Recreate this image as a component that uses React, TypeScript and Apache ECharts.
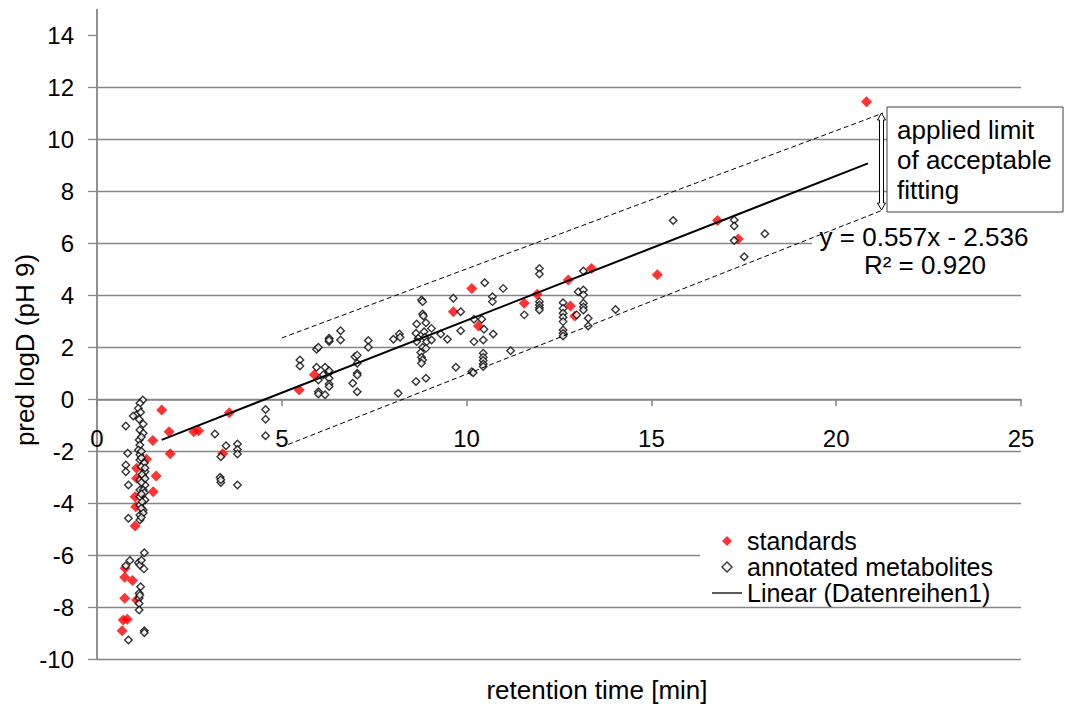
import React, { useEffect, useRef } from 'react';
import * as echarts from 'echarts';

const FONT = '"Liberation Sans", Arial, Helvetica, sans-serif';

const yTicks = [-10, -8, -6, -4, -2, 0, 2, 4, 6, 8, 10, 12, 14];
const Y_MIN = -10;
const Y_MAX = 15;

const standards: [number, number][] = [
  [1.75, -0.41], [1.95, -1.25], [1.51, -1.59], [1.98, -2.1], [2.62, -1.25], [2.75, -1.21],
  [3.58, -0.52], [3.4, -2.1], [1.34, -2.31], [1.6, -2.95], [1.52, -3.56], [1.07, -2.66],
  [1.07, -3.04], [1.03, -3.75], [1.05, -4.14], [1.03, -4.88], [0.76, -6.51], [0.75, -6.85],
  [0.96, -6.98], [0.75, -7.66], [1.07, -7.73], [0.82, -8.47], [0.71, -8.5], [0.68, -8.91],
  [5.47, 0.36], [5.88, 0.94], [9.64, 3.37], [10.14, 4.27], [10.32, 2.82], [11.56, 3.7],
  [11.91, 4.04], [12.75, 4.59], [13.38, 5.04], [12.81, 3.59], [12.93, 3.21], [15.16, 4.79],
  [16.79, 6.88], [17.35, 6.17], [20.82, 11.46],
];

const metabolites: [number, number][] = [
  [1.24, -0.03], [1.16, -0.15], [1.12, -0.35], [1.07, -0.6], [0.98, -0.64], [1.14, -0.77],
  [1.25, -0.95], [0.78, -1.03], [1.16, -1.18], [1.25, -1.31], [1.14, -1.57], [1.16, -1.76],
  [1.12, -1.95], [0.83, -2.08], [1.16, -2.14], [1.16, -2.34], [0.78, -2.53], [0.78, -2.79],
  [1.3, -2.79], [1.25, -2.98], [1.16, -3.11], [0.85, -3.3], [1.3, -3.3], [1.16, -3.49],
  [1.25, -3.49], [1.16, -3.75], [1.3, -3.88], [1.16, -4.07], [1.25, -4.26], [1.16, -4.46],
  [0.85, -4.58], [1.16, -4.65], [1.2, -2.25], [1.28, -2.45], [1.2, -2.6], [1.3, -2.65],
  [1.22, -2.9], [1.3, -3.05], [1.2, -3.2], [1.28, -3.6], [1.2, -3.65], [1.22, -3.95],
  [1.2, -4.2], [1.25, -4.38], [1.2, -4.55], [1.2, -1.45], [1.2, -2.0], [1.18, -0.5],
  [1.28, -5.91], [0.89, -6.21], [0.78, -6.41], [1.12, -6.29], [1.16, -6.38], [1.27, -6.53],
  [1.18, -7.22], [1.14, -7.47], [1.14, -7.66], [1.14, -7.86], [1.14, -8.11], [1.28, -8.91],
  [1.28, -8.99], [0.85, -9.27], [1.16, -7.55], [1.2, -6.2],
  [4.56, -0.39], [4.56, -0.77], [4.56, -1.4], [3.19, -1.34], [3.49, -1.79], [3.35, -2.21],
  [3.8, -1.72], [3.8, -1.93], [3.8, -2.11], [3.33, -3.0], [3.35, -3.2], [3.8, -3.3], [3.35, -3.1],
  [5.49, 1.51], [5.49, 1.28], [5.94, 1.93], [5.99, 2.0], [6.28, 2.35], [6.28, 2.22], [6.28, 2.28],
  [6.59, 2.64], [6.59, 2.28], [5.94, 1.23], [6.17, 1.23], [6.12, 0.94], [6.28, 1.02], [6.28, 0.81],
  [6.28, 0.59], [5.99, 0.74], [5.99, 0.29], [5.99, 0.2], [6.17, 0.17], [6.28, 0.49], [6.28, 1.1],
  [6.98, 1.64], [7.04, 1.7], [7.04, 1.39], [7.04, 1.0], [7.04, 0.93], [6.92, 0.62], [7.04, 0.29],
  [7.34, 2.26], [7.34, 2.0],
  [8.02, 2.31], [8.18, 2.51], [8.2, 2.39], [8.15, 0.23], [8.65, 2.9], [8.78, 3.82], [8.81, 3.76],
  [8.81, 3.28], [8.83, 3.21], [8.63, 2.54], [8.69, 2.35], [8.65, 2.22], [8.9, 2.95], [9.05, 2.73],
  [8.85, 2.6], [8.87, 2.39], [8.92, 2.22], [9.05, 2.28], [8.81, 2.0], [8.76, 1.8], [8.78, 1.62],
  [8.81, 1.51], [8.9, 1.96], [8.78, 1.39], [8.63, 0.68], [8.9, 0.81], [9.3, 2.51], [9.48, 2.31],
  [9.64, 3.89], [9.84, 3.37], [9.84, 2.64], [9.71, 1.23],
  [10.2, 3.08], [10.41, 3.08], [10.47, 2.7], [10.2, 2.22], [10.45, 2.28], [10.45, 1.77],
  [10.45, 1.62], [10.45, 1.49], [10.45, 1.36], [10.45, 1.26], [10.14, 1.06], [10.18, 1.02],
  [10.49, 4.49], [10.7, 3.95], [10.7, 3.76], [10.99, 4.27], [10.72, 2.51], [11.19, 1.87],
  [11.97, 5.04], [11.97, 4.82], [11.97, 3.76], [11.97, 3.63], [11.97, 3.52], [11.97, 3.44],
  [11.56, 3.25], [12.61, 3.72], [12.61, 3.5], [12.61, 3.31], [12.61, 3.16], [12.61, 2.99],
  [12.61, 2.67], [12.61, 2.54], [12.61, 2.44], [13.02, 4.14], [13.16, 4.21], [13.16, 4.02],
  [13.16, 4.94], [13.16, 3.7], [13.16, 3.55], [13.16, 3.44], [13.29, 3.12], [13.29, 2.82],
  [12.98, 3.25], [14.03, 3.46],
  [15.59, 6.88], [17.24, 6.9], [17.24, 6.67], [17.24, 6.11], [18.07, 6.37], [17.51, 5.49],
];

const trendline: [number, number][] = [[1.75, -1.561], [20.86, 9.083]];
const upperLimit: [number, number][] = [[5.0, 2.36], [21.27, 11.02]];
const lowerLimit: [number, number][] = [[5.17, -1.74], [21.27, 7.29]];

const equationLines = ['y = 0.557x - 2.536', 'R² = 0.920'];
const boxLines = ['applied limit', 'of acceptable', 'fitting'];
const xTitle = 'retention time [min]';
const yTitle = 'pred logD (pH 9)';
const legendNames = ['standards', 'annotated metabolites', 'Linear (Datenreihen1)'];

const GRID = '#868686';
const GRID_TOP = 9.7;
const GRID_BOTTOM = 45;
const CHART_H = 704;

const DIAMOND_ICON = 'path://M5,0L10,5L5,10L0,5Z';
const LINE_ICON = 'path://M0,0L30,0L30,1.3L0,1.3Z';

export default function App() {
  const ref = useRef<HTMLDivElement>(null);
  useEffect(() => {
    if (!ref.current) return;
    const chart = echarts.init(ref.current, undefined, { renderer: 'svg' });
    const plotH = CHART_H - GRID_TOP - GRID_BOTTOM;
    // move the x axis up to where y = 0 lies
    const zeroOffset = -((0 - Y_MIN) / (Y_MAX - Y_MIN)) * plotH;
    const option: any = {
      animation: false,
      backgroundColor: '#fff',
      textStyle: { fontFamily: FONT },
      grid: { left: 97, right: 44, top: GRID_TOP, bottom: GRID_BOTTOM, containLabel: false },
      xAxis: {
        type: 'value',
        min: 0,
        max: 25,
        interval: 5,
        position: 'bottom',
        offset: zeroOffset,
        axisLine: { onZero: false, lineStyle: { color: GRID, width: 1.5 } },
        axisTick: { show: true, length: 7, lineStyle: { color: GRID, width: 1.5 } },
        axisLabel: { fontSize: 24, color: '#000', margin: 27, fontFamily: FONT },
        splitLine: { show: false },
      },
      yAxis: {
        type: 'value',
        min: Y_MIN,
        max: Y_MAX,
        interval: 2,
        axisLine: { show: true, onZero: false, lineStyle: { color: GRID, width: 1.8 } },
        axisTick: { show: true, length: 9, lineStyle: { color: GRID, width: 1.3 }, customValues: yTicks },
        axisLabel: { customValues: yTicks, fontSize: 24, color: '#000', margin: 23, fontFamily: FONT },
        splitLine: { show: true, showMaxLine: false, lineStyle: { color: GRID, width: 1.3 } },
      },
      legend: {
        orient: 'vertical',
        left: 700,
        top: 526,
        itemWidth: 30,
        itemHeight: 10,
        itemGap: 0,
        itemTextGap: 5,
        symbolKeepAspect: true,
        backgroundColor: '#fff',
        padding: [2, 40, 0, 12],
        textStyle: { fontSize: 25, lineHeight: 26, color: '#000', fontFamily: FONT },
        data: [
          { name: legendNames[0], icon: DIAMOND_ICON, itemStyle: { color: '#ff0000' } },
          { name: legendNames[1], icon: DIAMOND_ICON, itemStyle: { color: '#fff', borderColor: '#000', borderWidth: 1.4 } },
          { name: legendNames[2], icon: LINE_ICON, itemStyle: { color: '#000', borderWidth: 0 } },
        ],
      },
      series: [
        {
          name: legendNames[0],
          type: 'scatter',
          symbol: 'diamond',
          symbolSize: 11,
          itemStyle: { color: '#ff0000' },
          data: standards,
          z: 3,
        },
        {
          name: legendNames[1],
          type: 'scatter',
          symbol: 'diamond',
          symbolSize: 7.5,
          itemStyle: { color: '#ffffff', borderColor: '#000000', borderWidth: 1.4 },
          data: metabolites,
          z: 4,
        },
        {
          name: legendNames[2],
          type: 'line',
          data: trendline,
          symbol: 'none',
          showSymbol: false,
          itemStyle: { color: '#000' },
          lineStyle: { color: '#000', width: 2 },
          z: 5,
        },
        {
          name: 'upper limit',
          type: 'line',
          data: upperLimit,
          symbol: 'none',
          itemStyle: { color: '#000' },
          lineStyle: { color: '#000', width: 1, type: [5, 3] },
          z: 6,
        },
        {
          name: 'lower limit',
          type: 'line',
          data: lowerLimit,
          symbol: 'none',
          itemStyle: { color: '#000' },
          lineStyle: { color: '#000', width: 1, type: [5, 3] },
          z: 6,
        },
      ],
      graphic: [
        {
          type: 'rect',
          z: 100,
          shape: { x: 812, y: 241, width: 222, height: 42 },
          style: { fill: '#fff' },
        },
        {
          type: 'text',
          z: 101,
          x: 924,
          y: 237,
          style: { text: equationLines[0], font: `26px ${FONT}`, fill: '#000', textAlign: 'center', textVerticalAlign: 'middle' },
        },
        {
          type: 'text',
          z: 101,
          x: 925,
          y: 265,
          style: { text: equationLines[1], font: `26px ${FONT}`, fill: '#000', textAlign: 'center', textVerticalAlign: 'middle' },
        },
        {
          type: 'polygon',
          z: 100,
          shape: {
            points: [
              [881.5, 113], [885.5, 120], [883.5, 120], [883.5, 203], [885.5, 203],
              [881.5, 210], [877.5, 203], [879.5, 203], [879.5, 120], [877.5, 120],
            ],
          },
          style: { fill: '#fff', stroke: '#000', lineWidth: 1 },
        },
        {
          type: 'rect',
          z: 100,
          shape: { x: 887, y: 107, width: 176, height: 105 },
          style: { fill: '#fff', stroke: '#404040', lineWidth: 1 },
        },
        ...boxLines.map((t, i) => ({
          type: 'text',
          z: 101,
          x: 897,
          y: 130 + i * 30,
          style: { text: t, font: `26px ${FONT}`, fill: '#000', textAlign: 'left', textVerticalAlign: 'middle' },
        })),
        {
          type: 'text',
          z: 101,
          x: 597,
          y: 690,
          style: { text: xTitle, font: `26px ${FONT}`, fill: '#000', textAlign: 'center', textVerticalAlign: 'middle' },
        },
        {
          type: 'text',
          z: 101,
          x: 25,
          y: 350,
          rotation: Math.PI / 2,
          style: { text: yTitle, font: `26px ${FONT}`, fill: '#000', textAlign: 'center', textVerticalAlign: 'middle' },
        },
      ],
    };
    chart.setOption(option);
    return () => chart.dispose();
  }, []);
  return (
    <div
      ref={ref}
      style={{ position: 'absolute', left: 0, top: 0, width: 1065, height: 704 }}
    />
  );
}
